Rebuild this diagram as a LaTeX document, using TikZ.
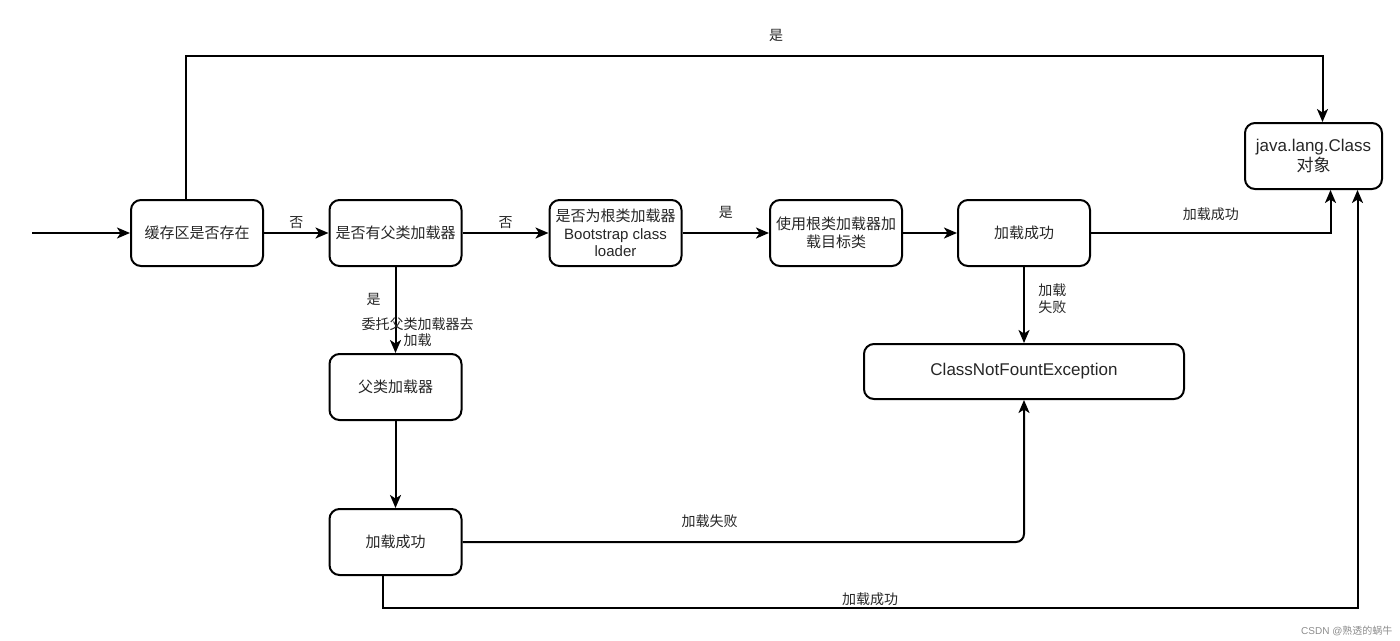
\documentclass[tikz,border=0pt]{standalone}
\usepackage{fontspec}
\setmainfont{Liberation Sans}
\newfontfamily\cjk{Noto Sans CJK SC}
\newcommand{\zh}[1]{{\cjk #1}}
\usetikzlibrary{arrows.meta}

\tikzset{
  box/.style={draw, line width=2pt, rounded corners=10pt, minimum width=132pt,
    minimum height=66pt, align=center, inner sep=2pt, text=black!85,
    font=\fontsize{15}{17.5}\selectfont},
  bigbox/.style={box, font=\fontsize{17}{20}\selectfont},
  flow/.style={->, line width=2pt},
  lbl/.style={font=\fontsize{14}{17}\selectfont, text=black!85, align=center},
}

\begin{document}
\begin{tikzpicture}[x=1pt, y=-1pt, >={Stealth[length=13pt, width=11pt, inset=3.5pt]}]
  \useasboundingbox (0,0) rectangle (1400,640);

  % Main row
  \node[box] (cache) at (197,233) {\zh{缓存区是否存在}};
  \node[box] (hasparent) at (395.5,233) {\zh{是否有父类加载器}};
  \node[box] (isroot) at (615.5,233) {\zh{是否为根类加载器}\\Bootstrap class\\loader};
  \node[box] (useroot) at (836,233) {\zh{使用根类加载器加}\\\zh{载目标类}};
  \node[box] (ok1) at (1024,233) {\zh{加载成功}};
  \node[bigbox, minimum width=137pt] (classobj) at (1313.5,156) {java.lang.Class\\\zh{对象}};
  \node[bigbox, minimum width=320pt, minimum height=55pt] (cnfe) at (1024,371.5) {ClassNotFountException};

  % Parent branch
  \node[box] (parent) at (395.5,387) {\zh{父类加载器}};
  \node[box] (ok2) at (395.5,542) {\zh{加载成功}};

  % Connectors
  \coordinate (entry) at (32,233);
  \draw[flow] (entry) -- (cache);
  \draw[flow] ([xshift=-11pt]cache.north) |- (186,56) -| ([xshift=9pt]classobj.north);
  \node[lbl] (yes0) at (776,35) {\zh{是}};
  \draw[flow] (cache) -- node[lbl, above] (no1) {\zh{否}} (hasparent);
  \draw[flow] (hasparent) -- node[lbl, above] (no2) {\zh{否}} (isroot);
  \draw[flow] (isroot) -- node[lbl, above, yshift=10pt] (yes1) {\zh{是}} (useroot);
  \draw[flow] (useroot) -- (ok1);
  \draw[flow] (ok1.east) -| node[lbl, pos=0.25, above, yshift=8pt] (succ1) {\zh{加载成功}}
    ([xshift=17pt]classobj.south);
  \draw[flow] (ok1) -- node[lbl, pos=0.42, right=10pt] (fail1) {\zh{加载}\\\zh{失败}} (cnfe);

  \draw[flow] (hasparent) -- node[lbl, pos=0.375, xshift=-22pt] (yes2) {\zh{是}}
    node[lbl, pos=0.76, xshift=22pt, font=\fontsize{14}{16}\selectfont] (deleg)
    {\zh{委托父类加载器去}\\\zh{加载}} (parent);
  \draw[flow] (parent) -- (ok2);
  \draw[flow, rounded corners=8pt] (ok2.east) -| node[lbl, pos=0.22, above, yshift=10pt] (fail2)
    {\zh{加载失败}} (cnfe.south);
  \draw[flow] ([xshift=-13pt]ok2.south) -- ++(0,32) -| ([xshift=44pt]classobj.south)
    node[lbl, pos=0.25, above, yshift=-2pt] (succ2) {\zh{加载成功}};

  % Watermark
  \node[font=\fontsize{10}{12}\selectfont, text=black!45, anchor=east] (mark)
    at (1396,631) {CSDN @\zh{熟透的蜗牛}};
\end{tikzpicture}
\end{document}
